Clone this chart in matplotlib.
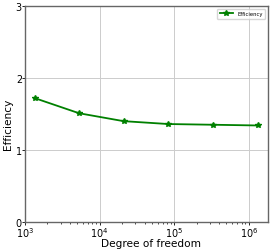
import matplotlib
matplotlib.use("Agg")
import matplotlib.pyplot as plt

dof = [1350, 5300, 20900, 83000, 330000, 1310000]
efficiency = [1.72, 1.51, 1.40, 1.36, 1.35, 1.34]

fig = plt.figure(figsize=(2.72, 2.51), dpi=100)
ax = fig.add_axes([0.092, 0.112, 0.893, 0.86])
ax.plot(dof, efficiency, color="green", marker="*", markersize=4, linewidth=1.3, label="Efficiency")
ax.set_xscale("log")
ax.set_xlim(1e3, 1.8e6)
ax.set_ylim(0, 3)
ax.set_yticks([0, 1, 2, 3])
ax.grid(True, color="#cccccc", linewidth=0.7)
ax.set_xlabel("Degree of freedom", fontsize=7.6)
ax.set_ylabel("Efficiency", fontsize=7.6)
ax.xaxis.set_label_coords(0.518, -0.074)
ax.yaxis.set_label_coords(-0.05, 0.456)
ax.tick_params(labelsize=6.9, pad=0.3, length=2, width=0.6)
ax.tick_params(which="minor", length=1.2, width=0.5)
for s in ax.spines.values():
    s.set_color("#666666")
    s.set_linewidth(1)
ax.legend(loc="upper right", fontsize=3.8, handlelength=2.5, borderpad=0.5)
fig.savefig("out.png", dpi=100)
